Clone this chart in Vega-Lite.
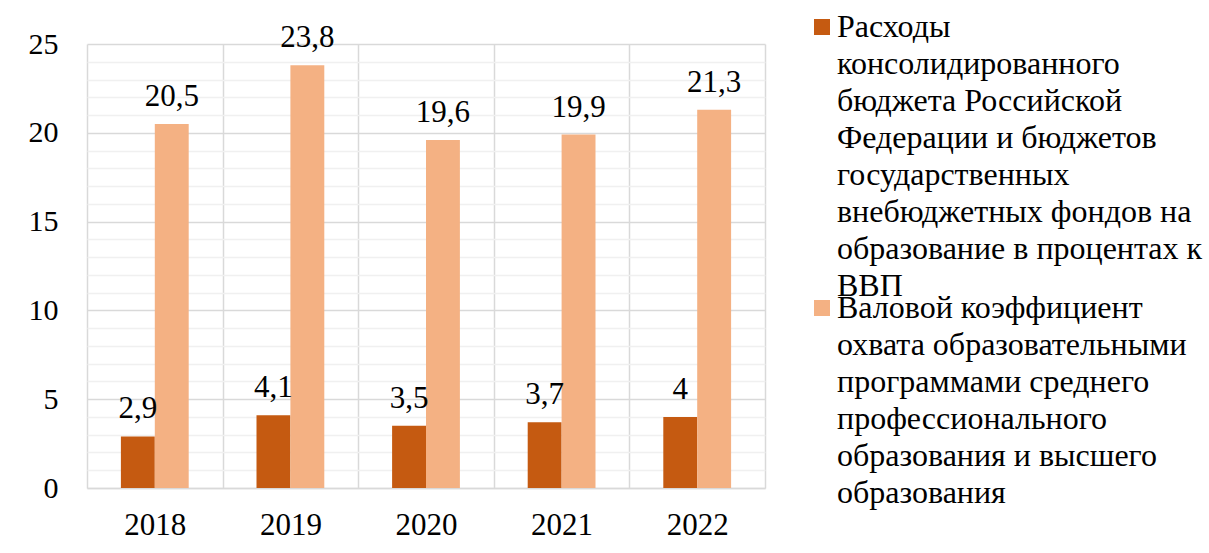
{
  "$schema": "https://vega.github.io/schema/vega-lite/v6.json",
  "width": 678,
  "height": 444,
  "autosize": {"type": "none"},
  "padding": {"left": 87, "top": 44, "right": 444, "bottom": 65},
  "background": "white",
  "config": {
    "font": "Liberation Serif",
    "view": {"stroke": null},
    "style": {"guide-label": {"lineHeight": 37}},
    "locale": {"number": {"decimal": ",", "thousands": " ", "grouping": [3], "currency": ["", ""]}}
  },
  "data": {
    "values": [
      {"year": "2018", "series": "Расходы консолидированного бюджета Российской Федерации и бюджетов государственных внебюджетных фондов на образование в процентах к ВВП", "value": 2.9},
      {"year": "2018", "series": "Валовой коэффициент охвата образовательными программами среднего профессионального образования и высшего образования", "value": 20.5},
      {"year": "2019", "series": "Расходы консолидированного бюджета Российской Федерации и бюджетов государственных внебюджетных фондов на образование в процентах к ВВП", "value": 4.1},
      {"year": "2019", "series": "Валовой коэффициент охвата образовательными программами среднего профессионального образования и высшего образования", "value": 23.8},
      {"year": "2020", "series": "Расходы консолидированного бюджета Российской Федерации и бюджетов государственных внебюджетных фондов на образование в процентах к ВВП", "value": 3.5},
      {"year": "2020", "series": "Валовой коэффициент охвата образовательными программами среднего профессионального образования и высшего образования", "value": 19.6},
      {"year": "2021", "series": "Расходы консолидированного бюджета Российской Федерации и бюджетов государственных внебюджетных фондов на образование в процентах к ВВП", "value": 3.7},
      {"year": "2021", "series": "Валовой коэффициент охвата образовательными программами среднего профессионального образования и высшего образования", "value": 19.9},
      {"year": "2022", "series": "Расходы консолидированного бюджета Российской Федерации и бюджетов государственных внебюджетных фондов на образование в процентах к ВВП", "value": 4},
      {"year": "2022", "series": "Валовой коэффициент охвата образовательными программами среднего профессионального образования и высшего образования", "value": 21.3}
    ]
  },
  "encoding": {
    "x": {
      "field": "year", "type": "nominal", "title": null,
      "scale": {"paddingInner": 0, "paddingOuter": 0},
      "axis": {
        "labelAngle": 0, "labelFontSize": 31, "labelColor": "#000000", "labelPadding": 22,
        "ticks": false, "tickBand": "extent", "grid": true, "gridColor": "#d9d9d9", "gridWidth": 1.5,
        "domainColor": "#d9d9d9", "domainWidth": 1.5
      }
    },
    "xOffset": {
      "field": "series", "type": "nominal",
      "sort": ["Расходы консолидированного бюджета Российской Федерации и бюджетов государственных внебюджетных фондов на образование в процентах к ВВП", "Валовой коэффициент охвата образовательными программами среднего профессионального образования и высшего образования"],
      "scale": {"paddingInner": 0, "paddingOuter": 1}
    },
    "y": {
      "field": "value", "type": "quantitative", "title": null,
      "scale": {"domain": [0, 25], "nice": false},
      "axis": {
        "values": [0,1,2,3,4,5,6,7,8,9,10,11,12,13,14,15,16,17,18,19,20,21,22,23,24,25],
        "labelExpr": "datum.value % 5 === 0 ? datum.label : ''",
        "labelFontSize": 30, "labelColor": "#000000", "labelPadding": 29,
        "ticks": false, "domain": false,
        "gridColor": {"condition": {"test": "datum.value % 5 === 0", "value": "#d9d9d9"}, "value": "#f0f0f0"},
        "gridWidth": 1.5
      }
    }
  },
  "layer": [
    {
      "mark": {"type": "bar"},
      "encoding": {
        "color": {
          "field": "series", "type": "nominal",
          "sort": ["Расходы консолидированного бюджета Российской Федерации и бюджетов государственных внебюджетных фондов на образование в процентах к ВВП", "Валовой коэффициент охвата образовательными программами среднего профессионального образования и высшего образования"],
          "scale": {"range": ["#C55A11", "#F4B183"]},
          "legend": {
            "title": null, "orient": "none", "legendX": 719, "legendY": -23, "padding": 0,
            "symbolType": "M-1,-2.25H1V-0.25H-1Z", "symbolSize": 256, "symbolStrokeWidth": 0, "symbolOpacity": 1,
            "labelFontSize": 32, "labelColor": "#000000", "labelLimit": 500, "labelOffset": -1,
            "labelBaseline": "alphabetic", "rowPadding": -38,
            "labelExpr": "indexof(datum.label, 'Расходы') === 0 ? ['Расходы', 'консолидированного', 'бюджета Российской', 'Федерации и бюджетов', 'государственных', 'внебюджетных фондов на', 'образование в процентах к', 'ВВП'] : ['Валовой коэффициент', 'охвата образовательными', 'программами среднего', 'профессионального', 'образования и высшего', 'образования']"
          }
        }
      }
    },
    {
      "mark": {"type": "text", "baseline": "alphabetic", "dy": -18, "fontSize": 31, "color": "#000000"},
      "encoding": {
        "text": {"field": "value", "type": "quantitative", "format": "~g"}
      }
    }
  ]
}
